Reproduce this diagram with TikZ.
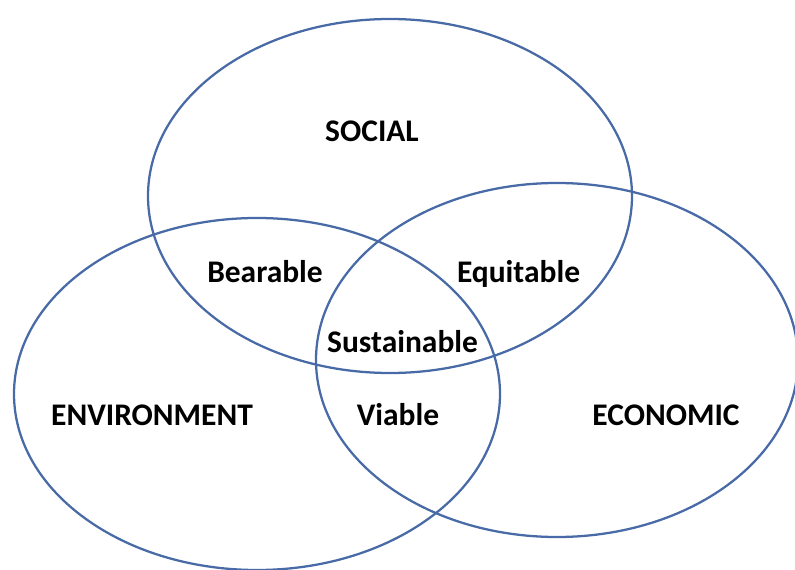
\documentclass[tikz,border=0pt]{standalone}
\usepackage{fontspec}
\setmainfont{Carlito}
\definecolor{ringc}{RGB}{72,106,166}
\begin{document}
\begin{tikzpicture}[x=0.75pt,y=-0.75pt,
  ring/.style={draw=ringc, line width=1.7pt},
  lab/.style={anchor=base, inner sep=0pt, font=\fontsize{23.6}{28}\selectfont\bfseries}]
\useasboundingbox (0,0) rectangle (795,570);
\begin{scope}
\clip (0,0) rectangle (795,570);
\draw[ring] (390,196) ellipse [x radius=242, y radius=177];
\draw[ring] (257,394) ellipse [x radius=243, y radius=176];
\draw[ring] (557,360) ellipse [x radius=241, y radius=177];
\end{scope}
\node[lab] (social) at (372,142) {SOCIAL};
\node[lab] (bearable) at (265,282) {Bearable};
\node[lab] (equitable) at (518.5,282) {Equitable};
\node[lab] (sustainable) at (402.5,352) {Sustainable};
\node[lab] (environment) at (152,425) {ENVIRONMENT};
\node[lab] (viable) at (398,425) {Viable};
\node[lab] (economic) at (666,425) {ECONOMIC};
\end{tikzpicture}
\end{document}
